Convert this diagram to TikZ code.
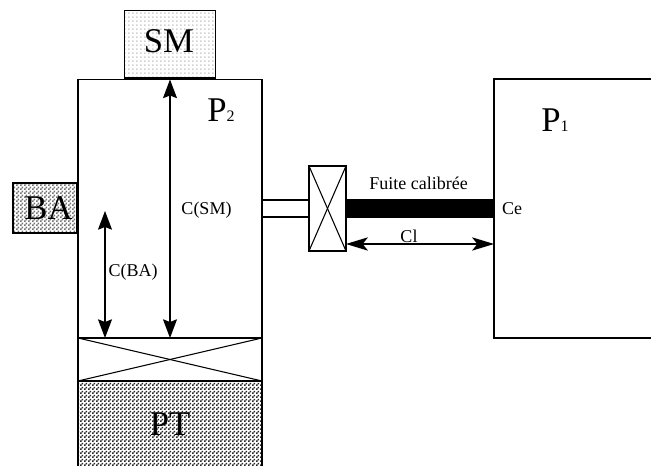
\documentclass[tikz,border=0pt]{standalone}
\usepackage{fontspec}
\setmainfont{Liberation Serif}
\usetikzlibrary{arrows.meta,patterns}

\pgfdeclarepatternformonly{grain}{\pgfpointorigin}{\pgfqpoint{3pt}{3pt}}{\pgfqpoint{3pt}{3pt}}{
  \pgfpathrectangle{\pgfpointorigin}{\pgfqpoint{1.5pt}{1.5pt}}
  \pgfpathrectangle{\pgfqpoint{1.5pt}{1.5pt}}{\pgfqpoint{1.5pt}{1.5pt}}
  \pgfusepath{fill}
}
\pgfdeclarepatternformonly{point}{\pgfpointorigin}{\pgfqpoint{3pt}{3pt}}{\pgfqpoint{3pt}{3pt}}{
  \pgfpathrectangle{\pgfpointorigin}{\pgfqpoint{1.5pt}{1.5pt}}
  \pgfusepath{fill}
}

\tikzset{
  wall/.style={draw,line width=1pt,inner sep=0pt,outer sep=0pt},
  cote/.style={{Stealth[length=14pt,width=10.5pt,inset=2pt]}-{Stealth[length=14pt,width=10.5pt,inset=2pt]},line width=0.9pt},
  cotelong/.style={{Stealth[length=16.5pt,width=10pt,inset=4pt]}-{Stealth[length=16.5pt,width=10pt,inset=4pt]},line width=0.9pt},
  big/.style={font=\fontsize{26}{26}\selectfont,inner sep=0pt},
  small/.style={font=\fontsize{13.5}{15}\selectfont,inner sep=0pt}
}

\begin{document}
\begin{tikzpicture}[x=0.75pt,y=-0.75pt]
\useasboundingbox (0,0) rectangle (651,466);

\def\xBox{78}
\def\xBoxEnd{262}
\def\xMid{170}

% enceinte P2
\draw[line width=1pt] (\xBox,466) -- (\xBox,79.5) -- (\xBoxEnd,79.5) -- (\xBoxEnd,466);
\coordinate (topP2) at (\xMid,79.5);
\coordinate (topBA) at (105,211);

% pompe et vanne du bas
\path[pattern=grain,pattern color=black!85] (\xBox,381) rectangle (\xBoxEnd,466);
\draw[line width=1pt] (\xBox,466) -- (\xBox,381) -- (\xBoxEnd,381) -- (\xBoxEnd,466);
\node[wall,line width=1.4pt,minimum width=138pt,minimum height=32.25pt] (vanneBas) at (\xMid,359.5) {};
\draw[line width=0.8pt] (vanneBas.north west) -- (vanneBas.south east);
\draw[line width=0.8pt] (vanneBas.north east) -- (vanneBas.south west);
\node[big] (PT) at (\xMid,424) {PT};
\coordinate (botBA) at (105,338);

% jauges
\node[wall,pattern=point,pattern color=black!18,minimum width=68.25pt,minimum height=50.5pt] (SM) at (170,44.5) {};
\node[big] (labelSM) at (169,41.5) {SM};
\node[wall,pattern=grain,pattern color=black!55,minimum width=48pt,minimum height=37.5pt] (BA) at (45,208) {};
\node[big] (labelBA) at (48.5,208) {BA};

\draw[cote] (topP2) -- (vanneBas.north);
\draw[cote] (topBA) -- (botBA);
\node[small] (cSM) at (206.5,210) {C(SM)};
\node[small] (cBA) at (133,272) {C(BA)};
\node[big,anchor=base west] (P2) at (207,122) {P{\fontsize{12}{12}\selectfont 2}};

% fuite
\node[wall,line width=0.9pt,minimum width=27.75pt,minimum height=63.75pt] (vanne) at (327.5,208.5) {};
\draw[line width=0.8pt] (vanne.north west) -- (vanne.south east);
\draw[line width=0.8pt] (vanne.north east) -- (vanne.south west);
\coordinate (tubeA) at (\xBoxEnd,200);
\coordinate (tubeB) at (\xBoxEnd,217);
\draw[line width=0.8pt] (tubeA) -- (tubeA-|vanne.west);
\draw[line width=0.8pt] (tubeB) -- (tubeB-|vanne.west);

% enceinte P1
\draw[line width=1pt] (651,79) -- (494,79) -- (494,338) -- (651,338);
\coordinate (wallP1) at (494,244);
\fill (346,199.5) rectangle (494,218);
\draw[cotelong] (vanne.south east|-wallP1) -- (wallP1);

\node[small] (fuite) at (418.5,183) {Fuite calibrée};
\node[small] (Ce) at (512,209) {Ce};
\node[small] (Cl) at (409,236) {Cl};
\node[big,anchor=base west] (P1) at (541,132) {P{\fontsize{12}{12}\selectfont 1}};

\end{tikzpicture}
\end{document}
